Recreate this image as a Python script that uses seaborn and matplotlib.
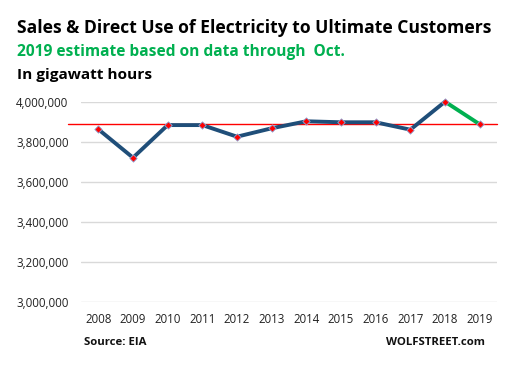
import pandas as pd
import matplotlib.pyplot as plt
import seaborn as sns
from matplotlib.ticker import FuncFormatter

# Data (gigawatt hours)
years = [2008, 2009, 2010, 2011, 2012, 2013, 2014, 2015, 2016, 2017, 2018, 2019]
values = [3865000, 3723000, 3886000, 3886000, 3828000, 3870000,
          3905000, 3900000, 3900000, 3863000, 4003000, 3890000]
estimate_level = 3890000  # red reference line (2019 estimate)

df = pd.DataFrame({"year": years, "gwh": values})
actual = df[df["year"] <= 2018]
estimate = df[df["year"] >= 2018]

sns.set_style("white")
plt.rcParams['font.family'] = ['Open Sans', 'DejaVu Sans']

fig = plt.figure(figsize=(5.23, 3.67), dpi=100)
ax = fig.add_axes([0.1549, 0.1763, 0.7954, 0.545])

# horizontal reference line, starts a bit left of the plot area
ax.axhline(estimate_level, xmin=-0.031, xmax=1, color='#FF0000', lw=1.0,
           clip_on=False, zorder=2)

sns.lineplot(data=actual, x="year", y="gwh", color='#1F4E79', lw=2.8, ax=ax,
             zorder=3, clip_on=False)
sns.lineplot(data=estimate, x="year", y="gwh", color='#00B050', lw=2.8, ax=ax,
             zorder=3, clip_on=False)
sns.scatterplot(data=df, x="year", y="gwh", marker='D', s=14, color='#FF0000',
                edgecolor='#8FA8D8', linewidth=0.6, ax=ax, zorder=4, clip_on=False)

ax.set_xlim(2007.5, 2019.5)
ax.set_ylim(3000000, 4000000)
ax.set_yticks(range(3000000, 4000001, 200000))
ax.yaxis.set_major_formatter(FuncFormatter(lambda v, p: f"{int(v):,}"))
ax.set_xticks(years)
ax.set_xticklabels([str(y) for y in years])
ax.grid(axis='y', color='#D9D9D9', lw=1)
ax.set_axisbelow(True)
for s in ax.spines.values():
    s.set_visible(False)
ax.tick_params(axis='both', length=0, labelsize=8.3, colors='#222222')
ax.tick_params(axis='y', pad=9)
ax.tick_params(axis='x', pad=8)
ax.set_xlabel("")
ax.set_ylabel("")


def fit_width(txt, width_px):
    # scale the font so the text spans the given pixel width
    renderer = fig.canvas.get_renderer()
    w = txt.get_window_extent(renderer).width
    txt.set_fontsize(txt.get_fontsize() * width_px / w)


t1 = fig.text(0.032, 0.924, "Sales & Direct Use of Electricity to Ultimate Customers",
              fontsize=11.1, fontweight='bold', color='black', va='center')
t2 = fig.text(0.032, 0.858, "2019 estimate based on data through  Oct.",
              fontsize=11.1, fontweight='bold', color='#00B050', va='center')
t3 = fig.text(0.032, 0.796, "In gigawatt hours",
              fontsize=11.0, fontweight='bold', color='black', va='center')
fit_width(t1, 476)
fit_width(t2, 328)
fit_width(t3, 135)
fig.text(0.161, 0.068, "Source: EIA", fontsize=8.2, fontweight='bold',
         color='#111111', va='center')
fig.text(0.928, 0.068, "WOLFSTREET.com", fontsize=8.2, fontweight='bold',
         color='#111111', va='center', ha='right')

fig.savefig("out.png", dpi=100)
